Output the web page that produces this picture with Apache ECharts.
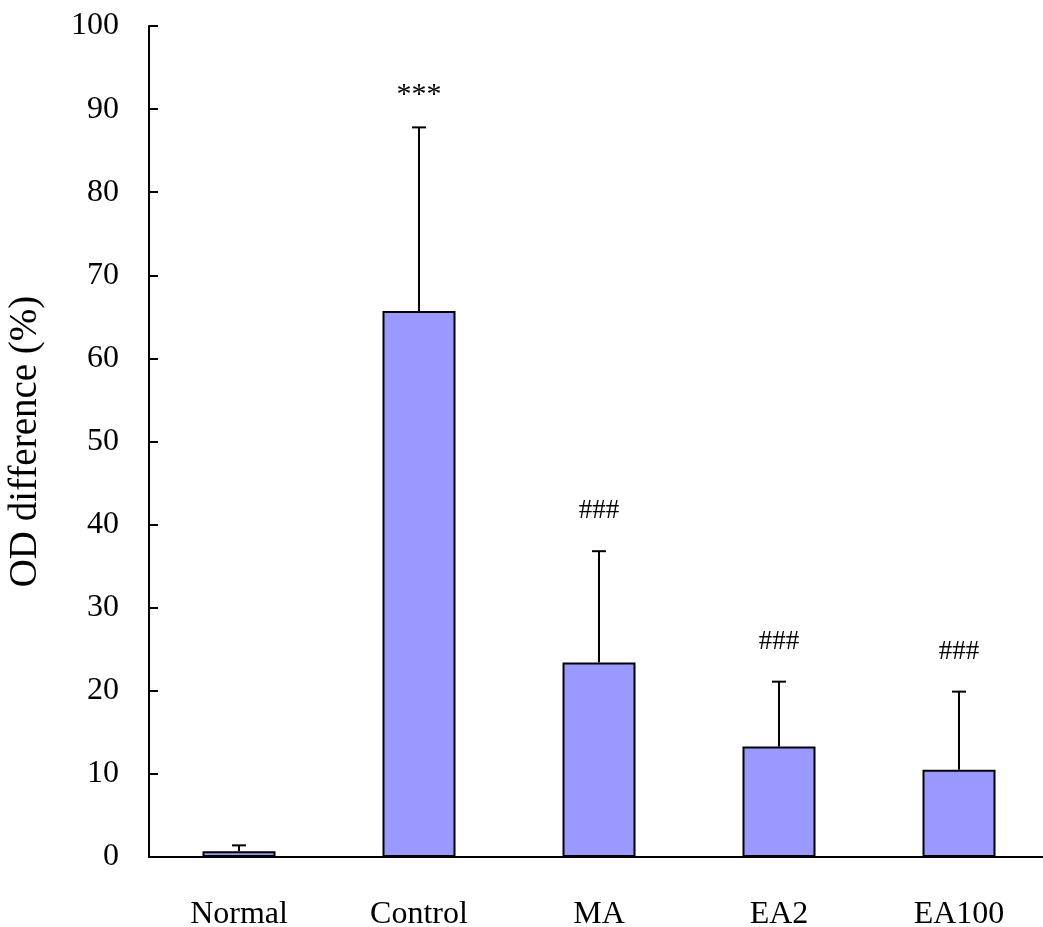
<!DOCTYPE html>
<html>
<head>
<meta charset="utf-8">
<script src="https://cdn.jsdelivr.net/npm/echarts@6/dist/echarts.min.js"></script>
<style>html,body{margin:0;padding:0;background:#fff;}#c{width:1043px;height:927px;}</style>
</head>
<body>
<div id="c"></div>
<script>
const categories = ['Normal', 'Control', 'MA', 'EA2', 'EA100'];
const means = [0.7, 65.7, 23.4, 13.3, 10.5];
const errorTops = [1.4, 87.8, 36.8, 21.1, 19.9];
const marks = ['', '***', '###', '###', '###'];
const yTicks = [0, 10, 20, 30, 40, 50, 60, 70, 80, 90, 100];

const FONT = '"Liberation Serif", "Times New Roman", serif';
const chart = echarts.init(document.getElementById('c'), null, {renderer: 'canvas'});
chart.setOption({
  animation: false,
  backgroundColor: '#fff',
  grid: {left: 149, top: 26, width: 900, bottom: 70, containLabel: false, outerBoundsMode: 'none'},
  xAxis: {
    type: 'category',
    data: categories,
    axisLine: {lineStyle: {color: '#000', width: 2}},
    axisTick: {inside: true, length: 10, lineStyle: {color: '#000', width: 2}},
    axisLabel: {color: '#000', fontFamily: FONT, fontSize: 32, margin: 42}
  },
  yAxis: {
    type: 'value',
    min: yTicks[0],
    max: yTicks[yTicks.length - 1],
    interval: 10,
    name: 'OD difference (%)',
    nameLocation: 'middle',
    nameGap: 104,
    nameTextStyle: {color: '#000', fontFamily: FONT, fontSize: 39},
    axisLine: {show: true, lineStyle: {color: '#000', width: 2}},
    axisTick: {show: true, inside: true, length: 9, lineStyle: {color: '#000', width: 2}},
    axisLabel: {color: '#000', fontFamily: FONT, fontSize: 32, margin: 30},
    splitLine: {show: false}
  },
  series: [
    {
      type: 'bar',
      data: means,
      barWidth: 73,
      itemStyle: {color: '#9999FF', borderColor: '#000', borderWidth: 2},
      z: 2
    },
    {
      type: 'custom',
      z: 3,
      data: categories.map((c, i) => [i, means[i], errorTops[i]]),
      renderItem: function (params, api) {
        const i = api.value(0);
        const base = api.coord([i, api.value(1)]);
        const top = api.coord([i, api.value(2)]);
        const capHalf = 7;
        const children = [
          {type: 'line', shape: {x1: top[0], y1: base[1], x2: top[0], y2: top[1]}, style: {stroke: '#000', lineWidth: 2}},
          {type: 'line', shape: {x1: top[0] - capHalf, y1: top[1], x2: top[0] + capHalf, y2: top[1]}, style: {stroke: '#000', lineWidth: 2}}
        ];
        const m = marks[i];
        if (m) {
          const isStar = m.indexOf('*') >= 0;
          children.push({
            type: 'text',
            style: {
              text: m,
              x: top[0],
              y: top[1] - (isStar ? 32 : 40),
              align: 'center',
              verticalAlign: 'middle',
              font: (isStar ? '30px ' : '27px ') + FONT,
              fill: '#000'
            }
          });
        }
        return {type: 'group', children: children};
      }
    }
  ]
});
</script>
</body>
</html>
